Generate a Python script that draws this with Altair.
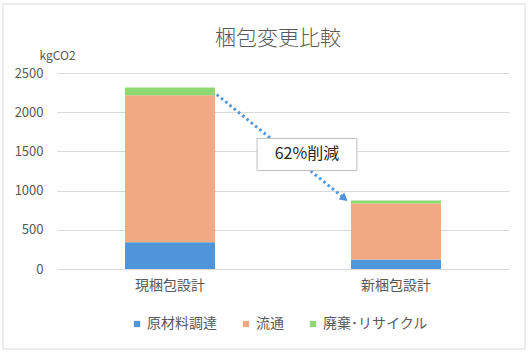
import altair as alt
import pandas as pd

categories = ["現梱包設計", "新梱包設計"]
series = ["原材料調達", "流通", "廃棄･リサイクル"]
raw_material = [340, 120]
distribution = [1875, 715]
disposal = [100, 38]
colors = ["#4E95D9", "#F1A983", "#8ED973"]

chart_title = "梱包変更比較"
arrow_x = [0.707, 1.272]
arrow_y = [2225, 900]
arrow_label = "62%削減"
label_box_x = [0.885, 1.327]
label_box_y = [1256, 1665]

FONT = "Noto Sans CJK JP"
GREY = "#595959"

rows = []
for i, c in enumerate(categories):
    for j, (s, vals) in enumerate(zip(series, [raw_material, distribution, disposal])):
        rows.append({"cat": c, "series": s, "value": vals[i], "order": j})
df = pd.DataFrame(rows)

bars = alt.Chart(df).mark_bar().encode(
    x=alt.X("cat:N", sort=categories, title=None,
            scale=alt.Scale(paddingInner=0.602, paddingOuter=0.301),
            axis=alt.Axis(labelAngle=0, labelFont=FONT, labelFontSize=14, labelColor=GREY,
                          labelPadding=9, ticks=False, domainColor="#d9d9d9")),
    y=alt.Y("value:Q", stack="zero", title="kgCO2",
            scale=alt.Scale(domain=[0, 2500], nice=False),
            axis=alt.Axis(values=[0, 500, 1000, 1500, 2000, 2500], format="d",
                          labelFont=FONT, labelFontSize=13, labelColor=GREY, labelPadding=14,
                          ticks=False, domain=False, gridColor="#d9d9d9",
                          titleAngle=0, titleX=0, titleY=-18, titleAlign="center",
                          titleBaseline="middle", titleFont=FONT, titleFontSize=12,
                          titleFontWeight="normal", titleColor=GREY)),
    color=alt.Color("series:N", sort=series,
                    scale=alt.Scale(domain=series, range=colors),
                    legend=alt.Legend(title=None, orient="none", direction="horizontal",
                                      legendX=73, legendY=244, symbolType="square",
                                      symbolSize=40, symbolStrokeWidth=0,
                                      labelFont=FONT, labelFontSize=14, labelColor=GREY,
                                      labelOffset=3, columnPadding=22, padding=0)),
    order=alt.Order("order:Q"),
)

xq = alt.Scale(domain=[0, 2], nice=False, zero=False)
yq = alt.Scale(domain=[0, 2500], nice=False)

arrow_df = pd.DataFrame({"x": arrow_x, "y": arrow_y})
arrow_line = alt.Chart(arrow_df).mark_line(
    color="#4E95D9", strokeWidth=3, strokeDash=[2.5, 3], strokeCap="butt"
).encode(
    x=alt.X("x:Q", scale=xq, axis=None),
    y=alt.Y("y:Q", scale=yq, axis=None),
)

head_df = pd.DataFrame({"x": [arrow_x[1]], "y": [arrow_y[1]]})
arrow_head = alt.Chart(head_df).mark_point(
    shape="triangle-up", filled=True, color="#4E95D9", size=80, angle=129, opacity=1
).encode(
    x=alt.X("x:Q", scale=xq, axis=None),
    y=alt.Y("y:Q", scale=yq, axis=None),
)

box_df = pd.DataFrame({"x": [label_box_x[0]], "x2": [label_box_x[1]],
                       "y": [label_box_y[0]], "y2": [label_box_y[1]],
                       "tx": [(label_box_x[0] + label_box_x[1]) / 2],
                       "ty": [(label_box_y[0] + label_box_y[1]) / 2],
                       "label": [arrow_label]})
box = alt.Chart(box_df).mark_rect(fill="white", stroke="#bfbfbf", strokeWidth=1).encode(
    x=alt.X("x:Q", scale=xq, axis=None), x2="x2:Q",
    y=alt.Y("y:Q", scale=yq, axis=None), y2="y2:Q",
)
box_text = alt.Chart(box_df).mark_text(font=FONT, fontSize=16, color="#262626",
                                       baseline="middle", align="center").encode(
    x=alt.X("tx:Q", scale=xq, axis=None),
    y=alt.Y("ty:Q", scale=yq, axis=None),
    text="label:N",
)

misc_df = pd.DataFrame({"t": [chart_title]})
frame = alt.Chart(misc_df).mark_rect(fillOpacity=0, stroke="#d9d9d9", strokeWidth=1).encode(
    x=alt.value(-54), x2=alt.value(468), y=alt.value(-69), y2=alt.value(276)
)
title = alt.Chart(misc_df).mark_text(font=FONT, fontSize=21, fontWeight=300, color=GREY,
                                     baseline="middle", align="center").encode(
    x=alt.value(221), y=alt.value(-34), text="t:N"
)

chart = alt.layer(frame, title, bars, arrow_line, arrow_head, box, box_text).resolve_scale(
    x="independent"
).resolve_axis(y="independent").properties(
    width=452, height=196,
    autosize=alt.AutoSizeParams(type="none"),
    padding={"left": 57, "top": 73, "right": 20, "bottom": 84},
).configure_view(stroke=None)

chart.save("out.html", embed_options={"renderer": "svg", "actions": False})
